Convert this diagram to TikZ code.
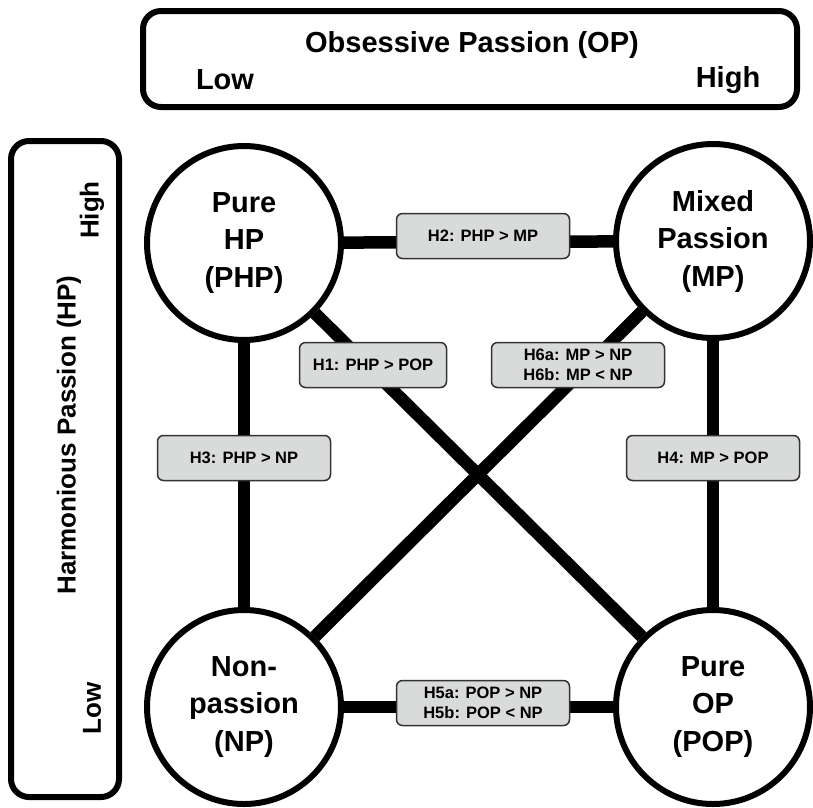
\documentclass[tikz,border=0pt]{standalone}
\usepackage{fontspec}
\setmainfont{Liberation Sans}
\usetikzlibrary{shapes.geometric}
\definecolor{hypgray}{HTML}{D9DBDA}
\definecolor{hypborder}{HTML}{333333}
\begin{document}
\begin{tikzpicture}[x=1pt,y=-1pt,
  frame/.style={draw, line width=6pt, rounded corners=18pt, inner sep=0pt},
  axis/.style={font=\bfseries\fontsize{29}{33}\selectfont, inner sep=0pt},
  vaxis/.style={font=\bfseries\fontsize{26}{30}\selectfont, inner sep=0pt, rotate=90},
  state/.style={circle, draw, line width=6pt, minimum size=194pt, fill=white, align=center, inner sep=0pt,
    font=\bfseries\fontsize{29}{37.5}\selectfont},
  hyp/.style={draw=hypborder, line width=1.5pt, fill=hypgray, rounded corners=6pt, minimum width=173pt,
    minimum height=45pt, align=center, inner sep=0pt, font=\bfseries\fontsize{16.5}{19.5}\selectfont},
  link/.style={line width=12.5pt}]
\useasboundingbox (0,0) rectangle (813,807);
% axis frames
\node[frame, minimum width=654pt, minimum height=96pt] (topbox) at (470,59) {};
\node[frame, minimum width=108pt, minimum height=656pt] (leftbox) at (65,469) {};
\node[axis] (optitle) at (472,45) {Obsessive Passion (OP)};
\node[axis] (oplow) at (225,80) {Low};
\node[axis] (ophigh) at (728,80) {High};
\node[vaxis] (hptitle) at (69,435) {Harmonious Passion (HP)};
\node[vaxis] (hphigh) at (92,210) {High};
\node[vaxis] (hplow) at (92,708) {Low};
% states
\node[state] (php) at (244,243) {Pure\\HP\\(PHP)};
\node[state] (mp) at (713,241) {Mixed\\Passion\\(MP)};
\node[state] (np) at (244,707) {Non-\\passion\\(NP)};
\node[state] (pop) at (713,707) {Pure\\OP\\(POP)};
% links
\draw[link] (php) -- (mp);
\draw[link] (php) -- (np);
\draw[link] (mp) -- (pop);
\draw[link] (np) -- (pop);
\draw[link] (php) -- (pop);
\draw[link] (mp) -- (np);
% hypotheses
\node[hyp] (h2) at (483,236) {H2: PHP > MP};
\node[hyp, minimum width=147pt] (h1) at (373,365) {H1: PHP > POP};
\node[hyp] (h6) at (578,365) {H6a: MP > NP\\H6b: MP < NP};
\node[hyp] (h3) at (244,458) {H3: PHP > NP};
\node[hyp] (h4) at (713,458) {H4: MP > POP};
\node[hyp] (h5) at (483,703) {H5a: POP > NP\\H5b: POP < NP};
\end{tikzpicture}
\end{document}
